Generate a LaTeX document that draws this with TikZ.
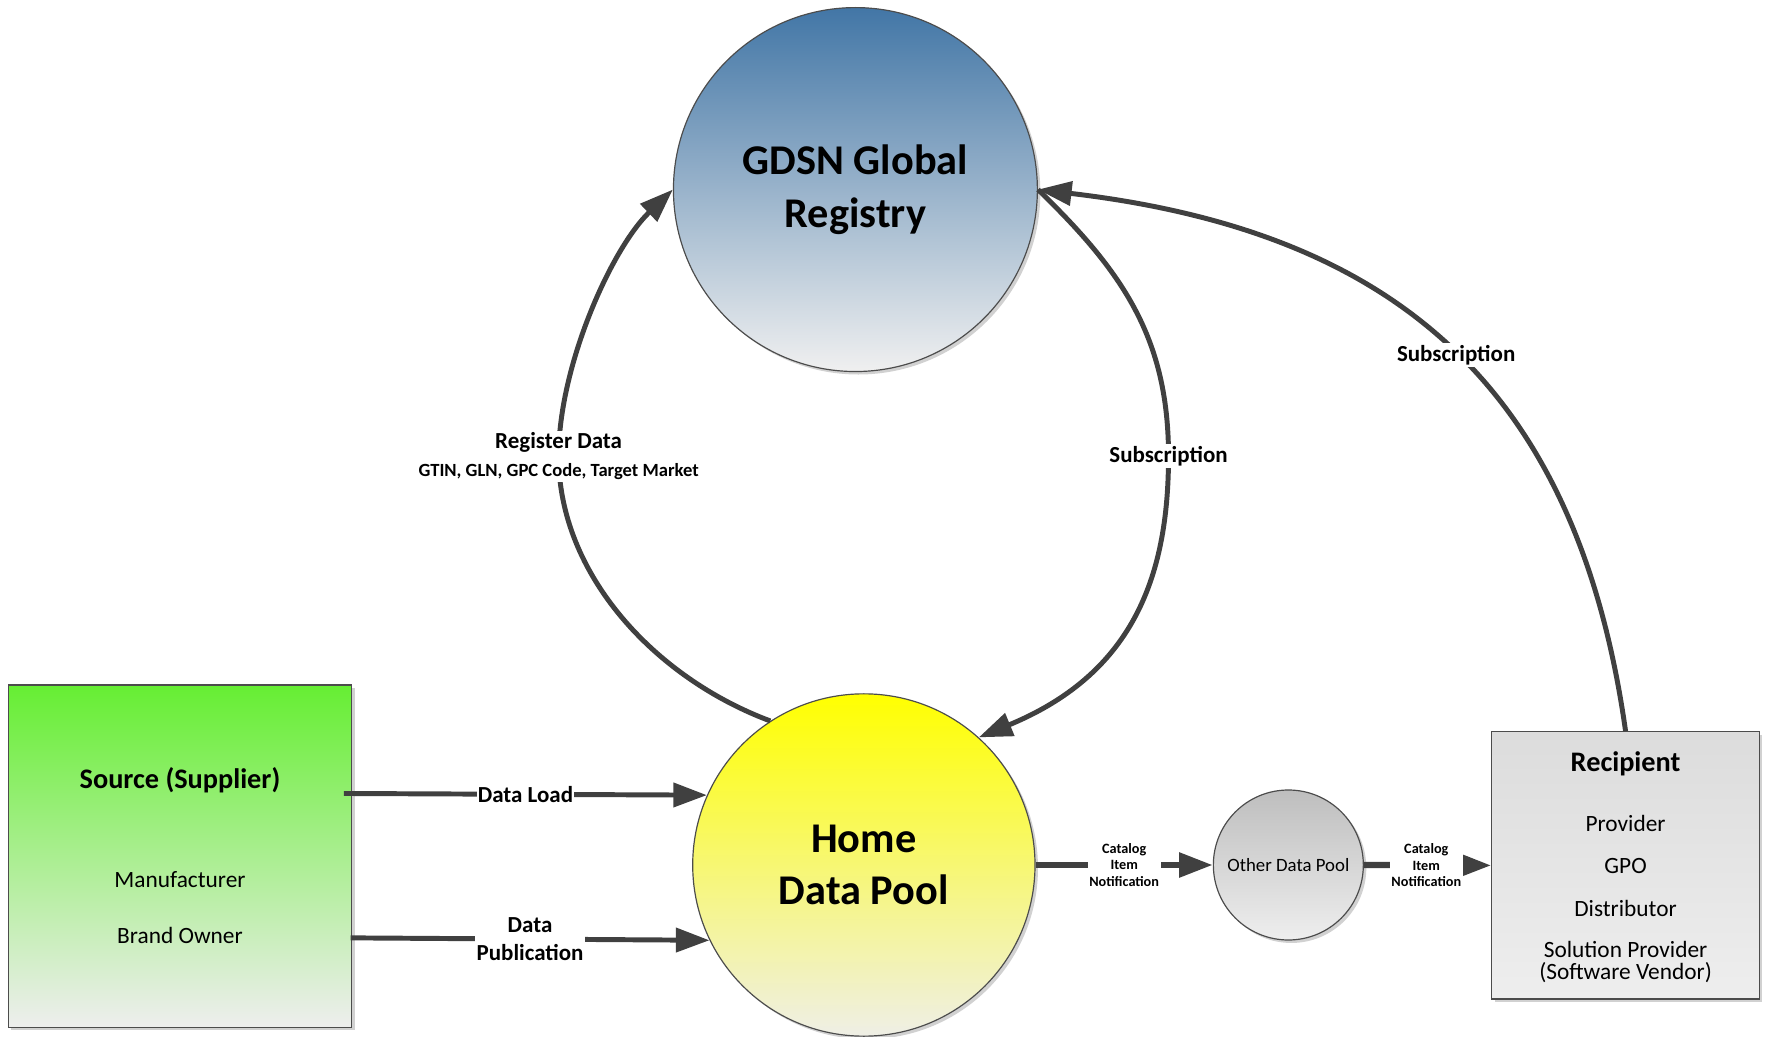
\documentclass[tikz,border=0pt]{standalone}
\usepackage{fontspec}
\setmainfont{Carlito}
\usetikzlibrary{arrows.meta,shadows,calc}
\definecolor{arrowgray}{HTML}{404040}
\definecolor{gdsnTop}{HTML}{4276A6}
\definecolor{gdsnMid}{HTML}{94B0CF}
\definecolor{gdsnBot}{HTML}{F0F0F0}
\definecolor{homeTop}{HTML}{FFFF00}
\definecolor{homeBot}{HTML}{EFEFE6}
\definecolor{otherTop}{HTML}{BEBEBE}
\definecolor{otherBot}{HTML}{EEEEEE}
\definecolor{srcTop}{HTML}{66EE33}
\definecolor{srcBot}{HTML}{EEEEEE}
\definecolor{recTop}{HTML}{DCDCDC}
\definecolor{recBot}{HTML}{EEEEEE}
\newcommand\fTitle{\bfseries\fontsize{21.4}{26.5}\selectfont}
\newcommand\fBoxTitle{\bfseries\fontsize{14.3}{17}\selectfont}
\newcommand\fItem{\fontsize{11.8}{14}\selectfont}
\newcommand\fLbl{\bfseries\fontsize{11.6}{14}\selectfont}
\newcommand\fSmallLbl{\bfseries\fontsize{9.4}{14.7}\selectfont}
\newcommand\fCat{\bfseries\fontsize{7.2}{8.5}\selectfont}
\newcommand\fOther{\fontsize{9.5}{11}\selectfont}
\tikzset{
  shp/.style={draw=black!70, line width=0.6pt,
    drop shadow={shadow xshift=1.5pt,shadow yshift=-1.5pt,fill=black!18,opacity=1}},
  bubble/.style={shp, circle, inner sep=0pt, align=center},
  panel/.style={shp, rectangle, inner sep=0pt},
  conn/.style={draw=arrowgray, line width=2.5pt,
    -{Triangle[length=17pt,width=12pt]}},
  catconn/.style={conn, line width=3.2pt},
  lbl/.style={fill=white, inner xsep=0.6pt, inner ysep=1pt, font=\fLbl, text=black, align=center},
  catlbl/.style={fill=white, inner xsep=0.8pt, inner ysep=1pt, font=\fCat, text=black, align=center},
}
\begin{document}
\begin{tikzpicture}[x=0.02cm,y=-0.02cm]
\useasboundingbox (0,0) rectangle (1568,920.7);

% shapes
\node[bubble, minimum size=6.464cm, top color=gdsnTop, middle color=gdsnMid, bottom color=gdsnBot, font=\fTitle]
  (gdsn) at (759.5,168.3) {GDSN Global\\Registry};
\node[bubble, minimum size=6.08cm, top color=homeTop, bottom color=homeBot, font=\fTitle]
  (home) at (767,768) {Home\\Data Pool};
\node[bubble, minimum size=2.664cm, top color=otherTop, bottom color=otherBot, font=\fOther]
  (other) at (1143.9,768) {Other Data Pool};
\node[panel, minimum width=6.096cm, minimum height=6.08cm, top color=srcTop, bottom color=srcBot]
  (src) at (159.8,760.2) {};
\node[panel, minimum width=4.752cm, minimum height=4.746cm, top color=recTop, bottom color=recBot]
  (recip) at (1443.3,768.35) {};

% texts inside boxes
\node[font=\fBoxTitle] (srctitle) at (159.8,692.6) {Source (Supplier)};
\node[font=\fItem] (manuf) at (159.8,780.8) {Manufacturer};
\node[font=\fItem] (brand) at (159.8,830.8) {Brand Owner};
\node[font=\fBoxTitle] (rectitle) at (1443.3,677.8) {Recipient};
\node[font=\fItem] (prov) at (1443.3,731) {Provider};
\node[font=\fItem] (gpo) at (1443.3,768.6) {GPO};
\node[font=\fItem] (distr) at (1443.3,807) {Distributor};
\node[font=\fItem, align=center, execute at begin node={\setlength{\baselineskip}{11.2pt}}] (solprov) at (1443.3,854.3) {Solution Provider\\(Software Vendor)};

% connectors
\draw[conn] (home.123) .. controls (581.7,602) and (496,510) .. (496,405)
  node[lbl] (reglbl) {Register Data\\{\fSmallLbl GTIN, GLN, GPC Code, Target Market}}
  .. controls (496,325) and (543,220.5) .. (gdsn.west);

\draw[conn] (gdsn.east) .. controls (996.7,241.1) and (1037.5,300) .. (1037.5,405)
  node[lbl] (sublbl1) {Subscription}
  .. controls (1037.5,515) and (1003.9,599) .. (home.48);

\draw[conn] (recip.north) .. controls (1399.5,338) and (1232.8,204.9) .. (gdsn.east)
  node[lbl, pos=0.48] (sublbl2) {Subscription};

\draw[conn] ([shift={(-7.3,-55.7)}]src.east) -- node[lbl] (loadlbl) {Data Load} (home.156);
\draw[conn] ([shift={(-1.4,72.5)}]src.east) -- node[lbl] (publbl) {Data\\Publication} (home.206);

\draw[catconn] (home.east) -- node[catlbl] (cat1) {Catalog\\Item\\Notification} (other.west);
\draw[catconn] (other.east) -- node[catlbl, pos=0.49] (cat2) {Catalog\\Item\\Notification} (recip.west);
\end{tikzpicture}
\end{document}
